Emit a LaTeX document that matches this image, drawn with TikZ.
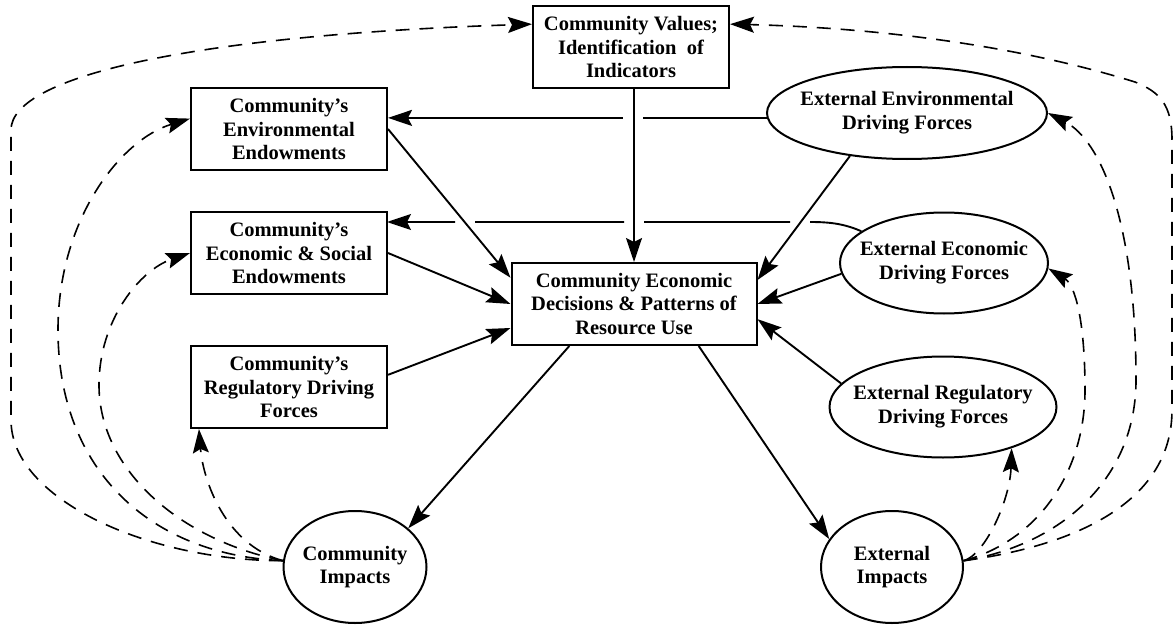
\documentclass[tikz,border=0pt]{standalone}
\usepackage{fontspec}
\setmainfont{Liberation Serif}
\usetikzlibrary{shapes.geometric,arrows.meta}

\begin{document}
\begin{tikzpicture}[
    x=1pt, y=-1pt,
    node distance=124pt,
    every node/.style={font=\fontsize{20.5}{23.8}\selectfont\bfseries},
    box/.style={rectangle, draw, line width=2pt, minimum width=196pt, minimum height=82pt, inner sep=0pt, align=center},
    bigbox/.style={box, minimum width=245pt},
    force/.style={ellipse, draw, line width=2pt, inner xsep=-20pt, inner ysep=0pt, align=center},
    arrow/.style={-{Stealth[length=24pt, width=16pt, inset=4pt]}, line width=1.9pt},
    feedback/.style={arrow, line width=1.6pt, dash pattern=on 14pt off 10pt}
]
\useasboundingbox (0,0) rectangle (1176,626);

\node[bigbox] (decision) at (634,304) {Community Economic\\Decisions \& Patterns of\\Resource Use};
\node[box, left of=decision, xshift=-221pt, yshift=51pt] (econend) {Community’s\\Economic \& Social\\Endowments};
\node[box, above of=econend] (envend) {Community’s\\Environmental\\Endowments};
\node[box, below of=econend, yshift=-10pt] (regend) {Community’s\\Regulatory Driving\\Forces};
\node[box, above of=decision, xshift=-3pt, yshift=133pt] (values) {Community Values;\\Identification\ \ of\\Indicators};
\node[force, minimum width=280pt, minimum height=92pt, right of=values, xshift=152pt, yshift=-66pt] (extenv) {External Environmental\\Driving Forces};
\node[force, minimum width=208pt, minimum height=101pt, right of=decision, xshift=186pt, yshift=41pt] (extecon) {External Economic\\Driving Forces};
\node[force, minimum width=227pt, minimum height=101pt, below of=extecon, xshift=-1pt, yshift=-20pt] (extreg) {External Regulatory\\Driving Forces};
\node[force, minimum width=143pt, minimum height=112pt, below of=regend, xshift=66pt, yshift=-56pt] (comimp) {Community\\Impacts};
\node[force, minimum width=142pt, minimum height=112pt, right of=comimp, xshift=413pt] (extimp) {External\\Impacts};

\draw[arrow] (decision.north |- values.south) -- (decision.north);
\draw[arrow] (extenv.182) -- ++(-124,0) ++(-20,0) -- (envend.east |- extenv.182);
\draw[arrow] (extecon.159) .. controls +(-18,-8) and +(18,0) .. (810,222) ++(-20,0) -- ++(-146,0) ++(-20,0) -- ++(-149,0) ++(-20,0) -- ++(-68,0);
\draw[arrow] (envend.east) -- (decision.168);
\draw[arrow] (econend.east) -- (decision.west);
\draw[arrow] (regend.7) -- (decision.191);
\draw[arrow] (extenv.217) -- (decision.11);
\draw[arrow] (extecon.186) -- (decision.east);
\draw[arrow] (extreg.167) -- (decision.353);
\draw[arrow] (decision.213) -- (comimp.36);
\draw[arrow] (decision.327) -- (extimp.156);

\draw[feedback] (comimp.175) .. controls (150,561) and (11,500) .. (11,420) -- (11,130) .. controls (11,75) and (200,35) .. (values.167);
\draw[feedback] (comimp.175) .. controls (150,555) and (58,470) .. (58,330) .. controls (58,220) and (120,140) .. (envend.174);
\draw[feedback] (comimp.175) .. controls (180,540) and (99,470) .. (99,385) .. controls (99,320) and (140,270) .. (econend.west);
\draw[feedback] (comimp.175) .. controls (225,545) and (203,480) .. (regend.205);

\draw[feedback] (extimp.5) .. controls (985,555) and (1010,500) .. (extreg.329);
\draw[feedback] (extimp.5) .. controls (1040,540) and (1085,470) .. (1085,390) .. controls (1085,320) and (1075,285) .. (extecon.357);
\draw[feedback] (extimp.5) .. controls (1060,545) and (1136,480) .. (1136,380) .. controls (1136,220) and (1100,140) .. (extenv.east);
\draw[feedback] (extimp.5) .. controls (1080,545) and (1172,500) .. (1172,410) -- (1172,140) .. controls (1172,105) and (1160,92) .. (1135,82) .. controls (1000,40) and (850,27) .. (values.13);

\end{tikzpicture}
\end{document}
